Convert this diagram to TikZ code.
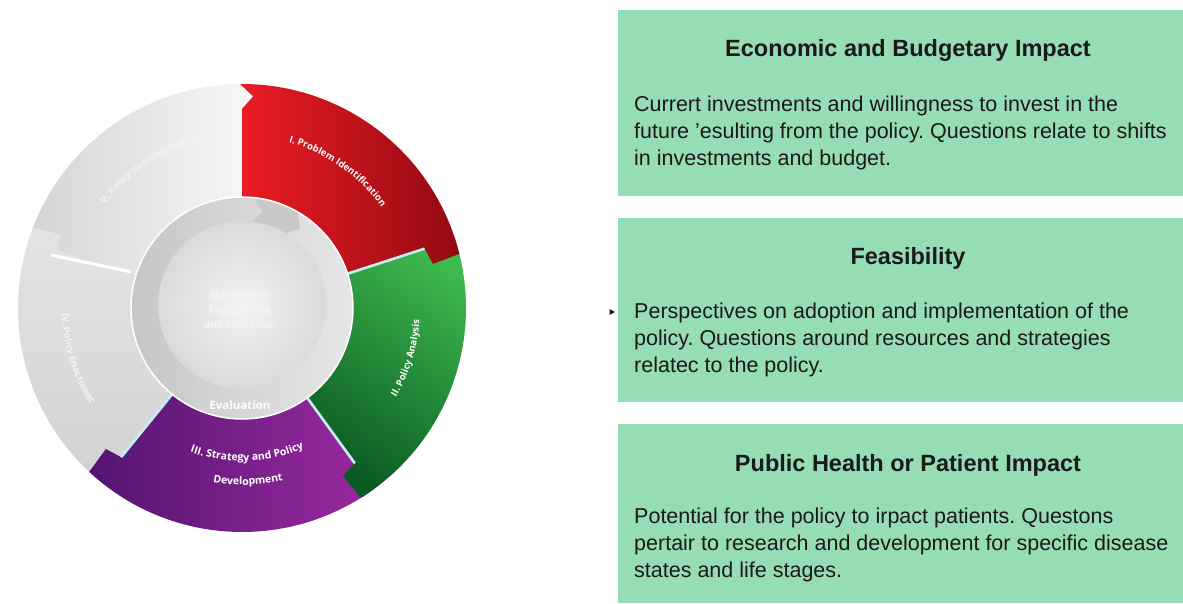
\documentclass[tikz,border=0pt]{standalone}
\usepackage{fontspec}
\setmainfont{Liberation Sans}
\newfontfamily\wheelfont{Open Sans}
\usetikzlibrary{decorations.text}
\frenchspacing

\definecolor{mint}{RGB}{150,220,180}
\definecolor{redL}{HTML}{EC1C24}
\definecolor{redR}{HTML}{930A12}
\definecolor{greenT}{HTML}{3FBA4E}
\definecolor{greenB}{HTML}{0A5A23}
\definecolor{purpL}{HTML}{521470}
\definecolor{purpR}{HTML}{9B2A9F}
\definecolor{grayVL}{HTML}{D4D4D4}
\definecolor{grayVR}{HTML}{F8F8F8}
\definecolor{grayIVT}{HTML}{E4E4E4}
\definecolor{grayIVB}{HTML}{D2D2D2}
\definecolor{sepcyan}{HTML}{C4EEF3}
\definecolor{ringL}{HTML}{C6C6C6}
\definecolor{ringR}{HTML}{E6E6E6}
\definecolor{ringD}{HTML}{C9C9C9}
\definecolor{diskIn}{HTML}{F3F3F3}
\definecolor{diskOut}{HTML}{DADADA}
\definecolor{graytext}{HTML}{F4F4F4}
\definecolor{bodytext}{HTML}{1A1A1A}

\def\rA{111}
\def\rB{224}
% segment path, clockwise from #1 (tail) to #2 (head)
\newcommand\segpath[2]{(#1:\rA) -- (#1:\rB-25) -- (#1-3:\rB-12) -- (#1+0.5:\rB)
  arc[start angle=#1+0.5, end angle=#2-4, radius=\rB] -- (#2-5:\rB-28) -- (#2:\rB-32)
  -- (#2:\rA) arc[start angle=#2, end angle=#1, radius=\rA] -- cycle}

\tikzset{
  sepline/.style={sepcyan, line width=2.6pt},
  whiteline/.style={white, line width=3pt},
  heading/.style={font=\fontsize{23.5}{28}\selectfont\bfseries, text=bodytext, inner sep=0pt},
  body/.style={font=\fontsize{21.5}{27}\selectfont, text=bodytext, align=left, inner sep=0pt, anchor=west},
  centertext/.style={font=\wheelfont\fontsize{10}{15}\selectfont\bfseries, text=graytext, align=center, inner sep=0pt},
  evaltext/.style={font=\wheelfont\fontsize{11.5}{14}\selectfont\bfseries, text=white, inner sep=0pt},
}

\begin{document}
\begin{tikzpicture}[x=1pt,y=1pt]
\useasboundingbox (0,0) rectangle (1183,603);
\fill[white] (0,0) rectangle (1183,603);

% ---------- wheel ----------
\begin{scope}[shift={(242,295)}]
  % segments (drawn so that each head overlaps the next tail)
  \shade[left color=grayVL, right color=grayVR] \segpath{163}{90};
  \shade[top color=grayIVT, bottom color=grayIVB] \segpath{231}{163};
  \shade[left color=purpL, right color=purpR] \segpath{-54}{-129};
  \shade[top color=greenT, bottom color=greenB, shading angle=-35] \segpath{18}{-54};
  \shade[left color=redL, right color=redR] \segpath{90}{18};

  % separators
  \draw[sepline] (18:\rA) -- (18:\rB-32);
  \draw[sepline] (-54:\rA) -- (-54:\rB-32);
  \draw[sepline] (-129:\rA) -- (-129:\rB-32);
  \draw[whiteline] (162:\rA+6) -- (164.5:\rB-26);

  % inner ring and disk
  \shade[left color=ringL, right color=ringR] (0,0) circle[radius=\rA];
  \fill[ringD] (84:\rA) arc[start angle=84, end angle=60, radius=\rA] -- (54:98.5)
    -- (60:86) arc[start angle=60, end angle=84, radius=86] -- (78:98.5) -- cycle;
  \shade[inner color=diskIn, outer color=diskOut] (0,3) circle[radius=84];
  \draw[white, line width=1.5pt] (0,0) circle[radius=\rA];

  % curved labels
  \path[decorate, decoration={text along path, text color=white, text align=center,
    text={|\wheelfont\bfseries\fontsize{9.5}{12}\selectfont|I. Problem Identification}}]
    (88:172) arc[start angle=88, end angle=22, radius=172];
  \path[decorate, decoration={text along path, text color=white, text align=center,
    text={|\wheelfont\bfseries\fontsize{9.5}{12}\selectfont|II. Policy Analysis}}]
    (-44:178) arc[start angle=-44, end angle=10, radius=178];
  \path[decorate, decoration={text along path, text color=white, text align=center,
    text={|\wheelfont\bfseries\fontsize{10.5}{12}\selectfont|III. Strategy and Policy}}]
    (-126:153) arc[start angle=-126, end angle=-50, radius=153];
  \path[decorate, decoration={text along path, text color=white, text align=center,
    text={|\wheelfont\bfseries\fontsize{10.5}{12}\selectfont|Development}}]
    (-122:177) arc[start angle=-122, end angle=-54, radius=177];
  \path[decorate, decoration={text along path, text color=graytext, text align=center,
    text={|\wheelfont\bfseries\fontsize{9.5}{12}\selectfont|V. Policy Implementation}}]
    (156:172) arc[start angle=156, end angle=90, radius=172];
  \path[decorate, decoration={text along path, text color=graytext, text align=center,
    text={|\wheelfont\bfseries\fontsize{9.5}{12}\selectfont|IV. Policy Enactment}}]
    (164:180) arc[start angle=164, end angle=230, radius=180];

  \node[centertext] (stake) at (-2,-2) {Stakeholder\\Engagement\\and Education};
  \node[evaltext] (evalu) at (-2,-97) {Evaluation};
\end{scope}

% ---------- boxes ----------
\fill[mint] (618,407) rectangle (1183,593);
\fill[mint] (618,201) rectangle (1183,385);
\fill[mint] (618,0) rectangle (1183,179);

\node[heading] (h1) at (908,553) {Economic and Budgetary Impact};
\node[body] (t1) at (634,470) {Currert investments and willingness to invest in the\\future 'esulting from the policy. Questions relate to shifts\\in investments and budget.};

\node[heading] (h2) at (908,345) {Feasibility};
\node[body] (t2) at (634,263) {Perspectives on adoption and implementation of the\\policy. Questions around resources and strategies\\relatec to the policy.};
\fill[bodytext] (609.5,294) -- (615,291) -- (609.5,288) -- cycle;

\node[heading] (h3) at (908,138) {Public Health or Patient Impact};
\node[body] (t3) at (634,58) {Potential for the policy to irpact patients. Questons\\pertair to research and development for specific disease\\states and life stages.};
\end{tikzpicture}
\end{document}
